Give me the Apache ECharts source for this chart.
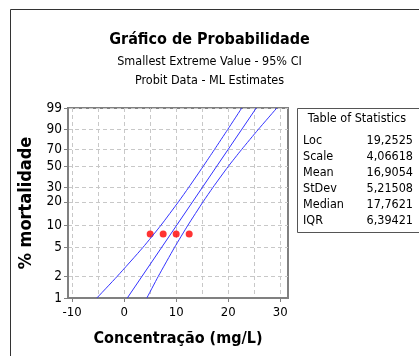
<!DOCTYPE html>
<html><head><meta charset="utf-8">
<script src="https://cdn.jsdelivr.net/npm/echarts@6/dist/echarts.min.js"></script>
<style>html,body{margin:0;padding:0;background:#fff}#c{width:419px;height:356px}</style>
</head><body><div id="c"></div>
<script>
// ---- data ----
const probTicks = [1, 2, 5, 10, 20, 30, 50, 70, 90, 99];      // % mortalidade tick labels
const xLabelTicks = [-10, 0, 10, 20, 30];                       // x tick labels
const xGridTicks = [-10, -5, 0, 5, 10, 15, 20, 25, 30];         // x grid lines
const pointX = [5, 7.5, 10, 12.5];                              // observed concentrations
const pointP = [7.6, 7.6, 7.6, 7.6];                            // observed % mortality
const fitP = [1, 99];                                           // fitted line
const fitX = [0.6, 25.4];
const ciP = [1, 2, 5, 10, 20, 30, 50, 70, 90, 99];              // CI bands
const lowerX = [-5.25, -1.34, 3.6, 7.09, 10.43, 12.42, 15.14, 17.35, 19.91, 22.61];
const upperX = [4.36, 6.56, 9.68, 12.27, 15.16, 17.08, 19.97, 22.57, 25.78, 29.35];
const statNames = ['Loc', 'Scale', 'Mean', 'StDev', 'Median', 'IQR'];
const statValues = ['19,2525', '4,06618', '16,9054', '5,21508', '17,7621', '6,39421'];

// smallest extreme value probability scale
const sev = p => Math.log(-Math.log(1 - p / 100));
const inv = v => 100 * (1 - Math.exp(-Math.exp(v)));
const pair = (xs, ps) => xs.map((x, i) => [x, sev(ps[i])]);

const FONT = "'DejaVu Sans Condensed','DejaVu Sans',sans-serif";
const chart = echarts.init(document.getElementById('c'), null, {renderer: 'canvas'});

const tableTop = 108, rowH = 16;
const tableChildren = [
  {type: 'rect', shape: {x: 297.5, y: tableTop + 0.5, width: 130, height: 124},
   style: {fill: '#fff', stroke: '#555', lineWidth: 1}},
  {type: 'text', x: 357, y: 119, style: {text: 'Table of Statistics', font: '12.5px ' + FONT, fill: '#000', textAlign: 'center', textVerticalAlign: 'middle'}}
];
statNames.forEach((n, i) => {
  tableChildren.push({type: 'text', x: 303, y: 141 + i * rowH, style: {text: n, font: '12.5px ' + FONT, fill: '#000', textAlign: 'left', textVerticalAlign: 'middle'}});
  tableChildren.push({type: 'text', x: 413, y: 141 + i * rowH, style: {text: statValues[i], font: '12.5px ' + FONT, fill: '#000', textAlign: 'right', textVerticalAlign: 'middle'}});
});

const gridColor = '#c8c8c8';
const option = {
  animation: false,
  backgroundColor: '#fff',
  title: [
    {text: 'Gráfico de Probabilidade', left: 'center', top: 27,
     textStyle: {fontFamily: FONT, fontSize: 16, fontWeight: 'bold', color: '#000'}},
    {text: 'Smallest Extreme Value - 95% CI', left: 'center', top: 50,
     textStyle: {fontFamily: FONT, fontSize: 12.5, fontWeight: 'normal', color: '#000'}},
    {text: 'Probit Data - ML Estimates', left: 'center', top: 69,
     textStyle: {fontFamily: FONT, fontSize: 12.5, fontWeight: 'normal', color: '#000'}}
  ],
  grid: {left: 68, top: 108, width: 220, height: 190, show: true,
         borderColor: '#808080', borderWidth: 2, backgroundColor: 'transparent'},
  xAxis: [
    {type: 'value', min: -10.8, max: 31.5, position: 'bottom',
     name: 'Concentração (mg/L)', nameLocation: 'middle', nameGap: 33,
     nameTextStyle: {fontFamily: FONT, fontSize: 16, fontWeight: 'bold', color: '#000'},
     axisLine: {show: true, onZero: false, lineStyle: {color: '#808080', width: 2}},
     axisTick: {show: true, length: 4, customValues: xLabelTicks, lineStyle: {color: '#808080'}},
     axisLabel: {customValues: xLabelTicks, fontFamily: FONT, fontSize: 13, color: '#000', margin: 8},
     splitLine: {show: false}},
    {type: 'value', min: -10.8, max: 31.5, position: 'bottom', gridIndex: 0,
     axisLine: {show: false, onZero: false}, axisLabel: {show: false},
     axisTick: {show: false, customValues: xGridTicks},
     splitLine: {show: true, lineStyle: {color: gridColor, type: [4, 3], width: 1}}}
  ],
  yAxis: {type: 'value', min: sev(1), max: sev(99),
    name: '% mortalidade', nameLocation: 'middle', nameGap: 28, nameRotate: 90,
    nameTextStyle: {fontFamily: FONT, fontSize: 18, fontWeight: 'bold', color: '#000'},
    axisLine: {show: true, onZero: false, lineStyle: {color: '#808080', width: 2}},
    axisTick: {show: true, length: 4, customValues: probTicks.map(sev), lineStyle: {color: '#808080'}},
    axisLabel: {customValues: probTicks.map(sev), fontFamily: FONT, fontSize: 13.5, color: '#000', margin: 6,
      formatter: v => String(Math.round(inv(v)))},
    splitLine: {show: true, lineStyle: {color: gridColor, type: [4, 3], width: 1}}},
  series: [
    {type: 'line', data: pair(lowerX, ciP), smooth: 0.2, symbol: 'none', lineStyle: {color: '#3333ff', width: 1}},
    {type: 'line', data: pair(fitX, fitP), symbol: 'none', lineStyle: {color: '#3333ff', width: 1}},
    {type: 'line', data: pair(upperX, ciP), smooth: 0.2, symbol: 'none', lineStyle: {color: '#3333ff', width: 1}},
    {type: 'scatter', data: pair(pointX, pointP), symbol: 'circle', symbolSize: 7, itemStyle: {color: '#ff0000'}}
  ],
  graphic: [
    {type: 'polyline', shape: {points: [[10.5, 356], [10.5, 9.5], [419, 9.5]]}, style: {stroke: '#333', lineWidth: 1, fill: null}},
    {type: 'group', children: tableChildren}
  ]
};
chart.setOption(option);
</script></body></html>
